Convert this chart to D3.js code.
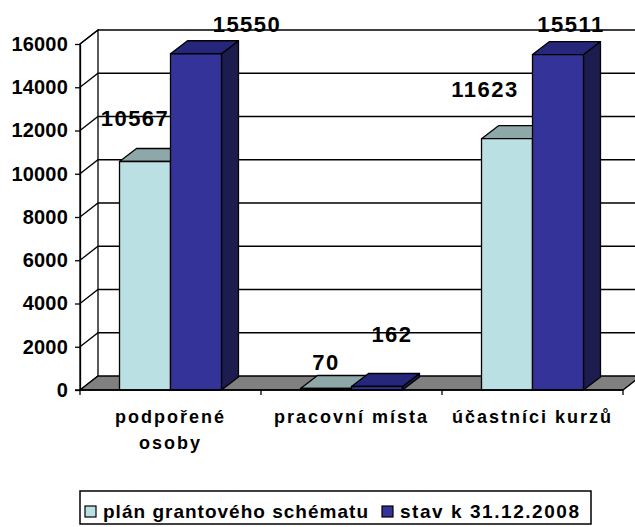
<!DOCTYPE html>
<html lang="cs">
<head>
<meta charset="UTF-8">
<title>Chart</title>
<script src="https://d3js.org/d3.v7.min.js"></script>
<style>
    body { margin: 0; background: #fff; }
    svg text { font-family: "Liberation Sans", Arial, sans-serif; font-weight: 700; fill: #000; }
</style>
</head>
<body>
<script>
    // data
    const categories = ["podpořené\nosoby", "pracovní místa", "účastníci kurzů"];
    const seriesNames = ["plán grantového schématu", "stav k 31.12.2008"];
    const plan = [10567, 70, 11623];
    const stav = [15550, 162, 15511];
    const yTicks = [0, 2000, 4000, 6000, 8000, 10000, 12000, 14000, 16000];

    // label nudges (layout only, px from the bar front top centre)
    const labelNudge = [
        [[-10, -35], [51, -22]],
        [[0, -18], [15, -44]],
        [[-22, -42], [13, -23]]
    ];

    const width = 635, height = 527;
    const plotLeft = 80, plotRight = 623, plotBottom = 390, plotTop = 44;
    const wallDx = 18, wallDy = -14;   // depth of walls / floor
    const barDx = 17, barDy = -13;     // depth of bars

    const colors = [
        { front: "#BBE0E3", top: "#8EA8A9", side: "#6F8A8C" },
        { front: "#333399", top: "#26267A", side: "#1C1C4E" }
    ];

    const svg = d3.select("body").append("svg")
        .attr("width", width)
        .attr("height", height);

    const x = d3.scaleBand().domain(d3.range(categories.length)).range([plotLeft, plotRight]);
    const xs = d3.scaleBand().domain([0, 1]).range([0, x.bandwidth()]).paddingOuter(0.775);
    const y = d3.scaleLinear().domain([0, 16000]).range([plotBottom, plotTop]);

    const line = d3.line();

    // left side wall
    svg.append("path")
        .attr("d", line([[plotLeft, y(0)], [plotLeft + wallDx, y(0) + wallDy], [plotLeft + wallDx, y(16000) + wallDy], [plotLeft, y(16000)]]) + "Z")
        .attr("fill", "#fff").attr("stroke", "#000").attr("stroke-width", 1.3);

    // gridlines on side and back wall
    svg.append("g").selectAll("path")
        .data(yTicks.filter(t => t > 0))
        .join("path")
        .attr("d", t => line([[plotLeft, y(t)], [plotLeft + wallDx, y(t) + wallDy], [width + 10, y(t) + wallDy]]))
        .attr("fill", "none").attr("stroke", "#000").attr("stroke-width", 1.3);

    // floor
    svg.append("path")
        .attr("d", line([[plotLeft, y(0)], [plotRight, y(0)], [plotRight + wallDx, y(0) + wallDy], [plotLeft + wallDx, y(0) + wallDy]]) + "Z")
        .attr("fill", "#808080").attr("stroke", "#000").attr("stroke-width", 1.3);

    // bars
    const bars = [];
    categories.forEach((c, i) => {
        [plan[i], stav[i]].forEach((v, s) => bars.push({ i, s, v }));
    });

    const bar = svg.append("g").selectAll("g")
        .data(bars)
        .join("g");

    bar.each(function (d) {
        const g = d3.select(this);
        const x0 = x(d.i) + xs(d.s), x1 = x0 + xs.bandwidth();
        const y0 = y(0), y1 = y(d.v);
        const c = colors[d.s];
        g.append("path")
            .attr("d", line([[x1, y0], [x1 + barDx, y0 + barDy], [x1 + barDx, y1 + barDy], [x1, y1]]) + "Z")
            .attr("fill", c.side);
        g.append("path")
            .attr("d", line([[x0, y1], [x1, y1], [x1 + barDx, y1 + barDy], [x0 + barDx, y1 + barDy]]) + "Z")
            .attr("fill", c.top);
        g.append("rect")
            .attr("x", x0).attr("y", y1)
            .attr("width", x1 - x0).attr("height", y0 - y1)
            .attr("fill", c.front);
        g.selectAll("path, rect")
            .attr("stroke", "#000").attr("stroke-width", 1.3).attr("stroke-linejoin", "round");
    });

    // front axes
    const yAxis = svg.append("g")
        .attr("transform", `translate(${plotLeft},0)`)
        .call(d3.axisLeft(y).tickValues(yTicks).tickFormat(d3.format("d"))
            .tickSize(5).tickPadding(7).tickSizeOuter(0));
    yAxis.attr("font-family", null).attr("font-size", null);
    yAxis.select(".domain").attr("stroke", "#000").attr("stroke-width", 1.3);
    yAxis.selectAll(".tick line").attr("stroke", "#000").attr("stroke-width", 1.3);
    yAxis.selectAll(".tick text")
        .attr("font-size", 20)
        .attr("letter-spacing", 0.2);

    svg.append("line")
        .attr("x1", plotLeft - 5).attr("x2", plotRight)
        .attr("y1", y(0)).attr("y2", y(0))
        .attr("stroke", "#000").attr("stroke-width", 1.5);

    svg.append("g").selectAll("line")
        .data(d3.range(categories.length + 1))
        .join("line")
        .attr("x1", k => plotLeft + k * x.step()).attr("x2", k => plotLeft + k * x.step())
        .attr("y1", y(0)).attr("y2", y(0) + 5)
        .attr("stroke", "#000").attr("stroke-width", 1.3);

    // category labels
    svg.append("g").selectAll("text")
        .data(categories)
        .join("text")
        .attr("text-anchor", "middle")
        .attr("font-size", 18)
        .attr("letter-spacing", 2)
        .each(function (c, i) {
            d3.select(this).selectAll("tspan")
                .data(c.split("\n"))
                .join("tspan")
                .attr("x", x(i) + x.bandwidth() / 2)
                .attr("y", (t, k) => 423 + k * 26)
                .text(t => t);
        });

    // value labels
    svg.append("g").selectAll("text")
        .data(bars)
        .join("text")
        .attr("text-anchor", "middle")
        .attr("font-size", 22)
        .attr("letter-spacing", 1.5)
        .attr("x", d => x(d.i) + xs(d.s) + xs.bandwidth() / 2 + labelNudge[d.i][d.s][0])
        .attr("y", d => y(d.v) + labelNudge[d.i][d.s][1])
        .text(d => d.v);

    // legend
    const legend = svg.append("g");
    legend.append("rect")
        .attr("x", 80).attr("y", 491)
        .attr("width", 511).attr("height", 33)
        .attr("fill", "#fff").attr("stroke", "#000").attr("stroke-width", 1.5);

    const legendX = [85, 382];
    const legendTextLen = [265, 179];
    const item = legend.selectAll("g.item")
        .data(seriesNames)
        .join("g")
        .attr("class", "item")
        .attr("transform", (d, k) => `translate(${legendX[k]},0)`);
    item.append("rect")
        .attr("x", 0).attr("y", 506)
        .attr("width", 11).attr("height", 11)
        .attr("fill", (d, k) => colors[k].front)
        .attr("stroke", "#000").attr("stroke-width", 1.2);
    item.append("text")
        .attr("x", 18).attr("y", 518)
        .attr("font-size", 19)
        .attr("textLength", (d, k) => legendTextLen[k])
        .attr("lengthAdjust", "spacing")
        .text(d => d);
</script>
</body>
</html>
